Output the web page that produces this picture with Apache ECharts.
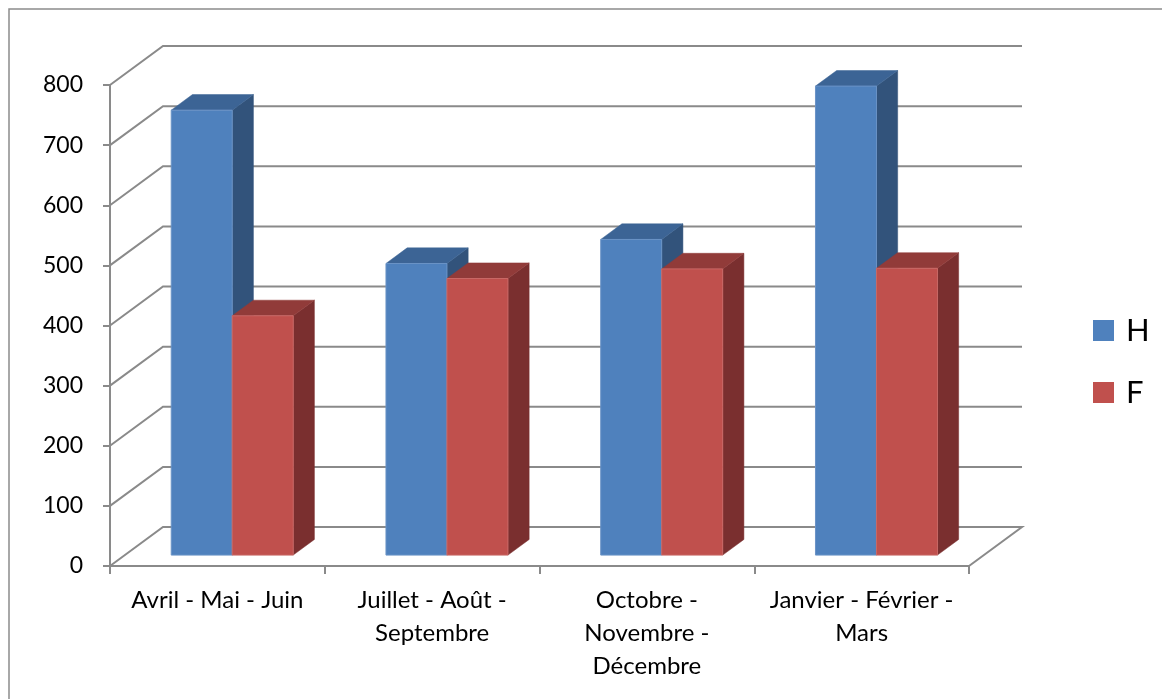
<!DOCTYPE html>
<html>
<head>
<meta charset="utf-8">
<script src="https://cdn.jsdelivr.net/npm/echarts@6/dist/echarts.min.js"></script>
<style>
  html, body { margin: 0; padding: 0; background: #ffffff; }
  #chart { width: 1162px; height: 699px; }
</style>
</head>
<body>
<div id="chart"></div>
<script>
// Quarterly figures, men (H) and women (F)
const categories = [
  'Avril - Mai - Juin',
  'Juillet - Août -\nSeptembre',
  'Octobre -\nNovembre -\nDécembre',
  'Janvier - Février -\nMars'
];
const seriesNames = ['H', 'F'];
const valuesH = [740, 485, 525, 780];
const valuesF = [398, 460, 476, 477];
const yTicks = [0, 100, 200, 300, 400, 500, 600, 700, 800];

// Oblique depth of the 3D box (pixels from the front plane to the back wall)
const DEPTH_X = 53;
const DEPTH_Y = 39;
// Bars sit between these fractions of the depth
const BAR_FRONT = 0.28;
const BAR_BACK = 0.68;
// Width of one bar as a fraction of a category band
const BAR_FRAC = 0.284;

const FONT = 'Lato, "Open Sans", sans-serif';
const LINE = '#8a8a8a';

const palette = {
  H: { front: '#4F81BD', top: '#3C6495', side: '#32537B', edge: '#6A93C6' },
  F: { front: '#C0504D', top: '#913B39', side: '#7A2F2F', edge: '#C96865' }
};

// Floor, back wall and side wall lines for each value level
function renderWall(params, api) {
  const v = api.value(0);
  const y = api.coord([0, v])[1];
  const left = params.coordSys.x;
  const right = params.coordSys.x + params.coordSys.width;
  const pts = [[left, y], [left + DEPTH_X, y - DEPTH_Y], [right + DEPTH_X, y - DEPTH_Y]];
  if (v === 0) pts.push([right, y]);
  return {
    type: 'polyline',
    shape: { points: pts },
    style: { stroke: LINE, lineWidth: 2, fill: null },
    silent: true
  };
}

// One 3D column: front face, top face and right side face
function barRenderer(slot, colors) {
  return function (params, api) {
    const i = api.value(0);
    const v = api.value(1);
    const top = api.coord([i, v]);
    const base = api.coord([i, 0]);
    const band = api.size([1, 0])[0];
    const w = band * BAR_FRAC;
    const fx = top[0] + (slot === 0 ? -w : 0) + DEPTH_X * BAR_FRONT;
    const fyBottom = base[1] - DEPTH_Y * BAR_FRONT;
    const fyTop = top[1] - DEPTH_Y * BAR_FRONT;
    const ddx = DEPTH_X * (BAR_BACK - BAR_FRONT);
    const ddy = DEPTH_Y * (BAR_BACK - BAR_FRONT);
    return {
      type: 'group',
      children: [
        {
          type: 'polygon',
          shape: { points: [[fx + w, fyTop], [fx + w + ddx, fyTop - ddy], [fx + w + ddx, fyBottom - ddy], [fx + w, fyBottom]] },
          style: { fill: colors.side, stroke: colors.side, lineWidth: 0.5 }
        },
        {
          type: 'polygon',
          shape: { points: [[fx, fyTop], [fx + ddx, fyTop - ddy], [fx + w + ddx, fyTop - ddy], [fx + w, fyTop]] },
          style: { fill: colors.top, stroke: colors.top, lineWidth: 0.5 }
        },
        {
          type: 'rect',
          shape: { x: fx, y: fyTop, width: w, height: fyBottom - fyTop },
          style: { fill: colors.front, stroke: colors.edge, lineWidth: 1 }
        }
      ]
    };
  };
}

const chart = echarts.init(document.getElementById('chart'), null, { renderer: 'canvas' });

chart.setOption({
  backgroundColor: '#ffffff',
  animation: false,
  textStyle: { fontFamily: FONT },
  graphic: [{
    type: 'rect',
    shape: { x: 9, y: 9, width: 1300, height: 900 },
    style: { fill: null, stroke: '#8c8c8c', lineWidth: 1.5 },
    silent: true,
    z: -10
  }],
  legend: {
    orient: 'vertical',
    left: 1088,
    top: 310,
    itemWidth: 21,
    itemHeight: 21,
    itemGap: 31,
    icon: 'rect',
    data: seriesNames,
    textStyle: { fontFamily: FONT, fontSize: 31, color: '#000', lineHeight: 30, padding: [0, 0, 0, 7] }
  },
  grid: { left: 110, right: 193, top: 85, bottom: 133, containLabel: false },
  xAxis: {
    type: 'category',
    data: categories,
    axisLine: { show: true, lineStyle: { color: LINE, width: 2 } },
    axisTick: { show: true, length: 8, lineStyle: { color: LINE, width: 2 } },
    axisLabel: {
      interval: 0,
      margin: 18,
      fontFamily: FONT,
      fontSize: 24,
      lineHeight: 33,
      color: '#000',
      align: 'center'
    },
    splitLine: { show: false }
  },
  yAxis: {
    type: 'value',
    min: 0,
    max: 800,
    interval: 100,
    axisLine: { show: true, lineStyle: { color: LINE, width: 2 } },
    axisTick: { show: true, length: 7, lineStyle: { color: LINE, width: 2 } },
    axisLabel: { margin: 27, fontFamily: FONT, fontSize: 23, color: '#000' },
    splitLine: { show: false }
  },
  series: [
    {
      name: 'wall',
      type: 'custom',
      renderItem: renderWall,
      data: yTicks.map(v => [v]),
      encode: { y: 0 },
      z: 1,
      silent: true,
      legendHoverLink: false
    },
    {
      name: 'H',
      type: 'custom',
      renderItem: barRenderer(0, palette.H),
      data: valuesH.map((v, i) => [i, v]),
      encode: { x: 0, y: 1 },
      itemStyle: { color: palette.H.front },
      z: 3
    },
    {
      name: 'F',
      type: 'custom',
      renderItem: barRenderer(1, palette.F),
      data: valuesF.map((v, i) => [i, v]),
      encode: { x: 0, y: 1 },
      itemStyle: { color: palette.F.front },
      z: 4
    }
  ]
});
</script>
</body>
</html>
